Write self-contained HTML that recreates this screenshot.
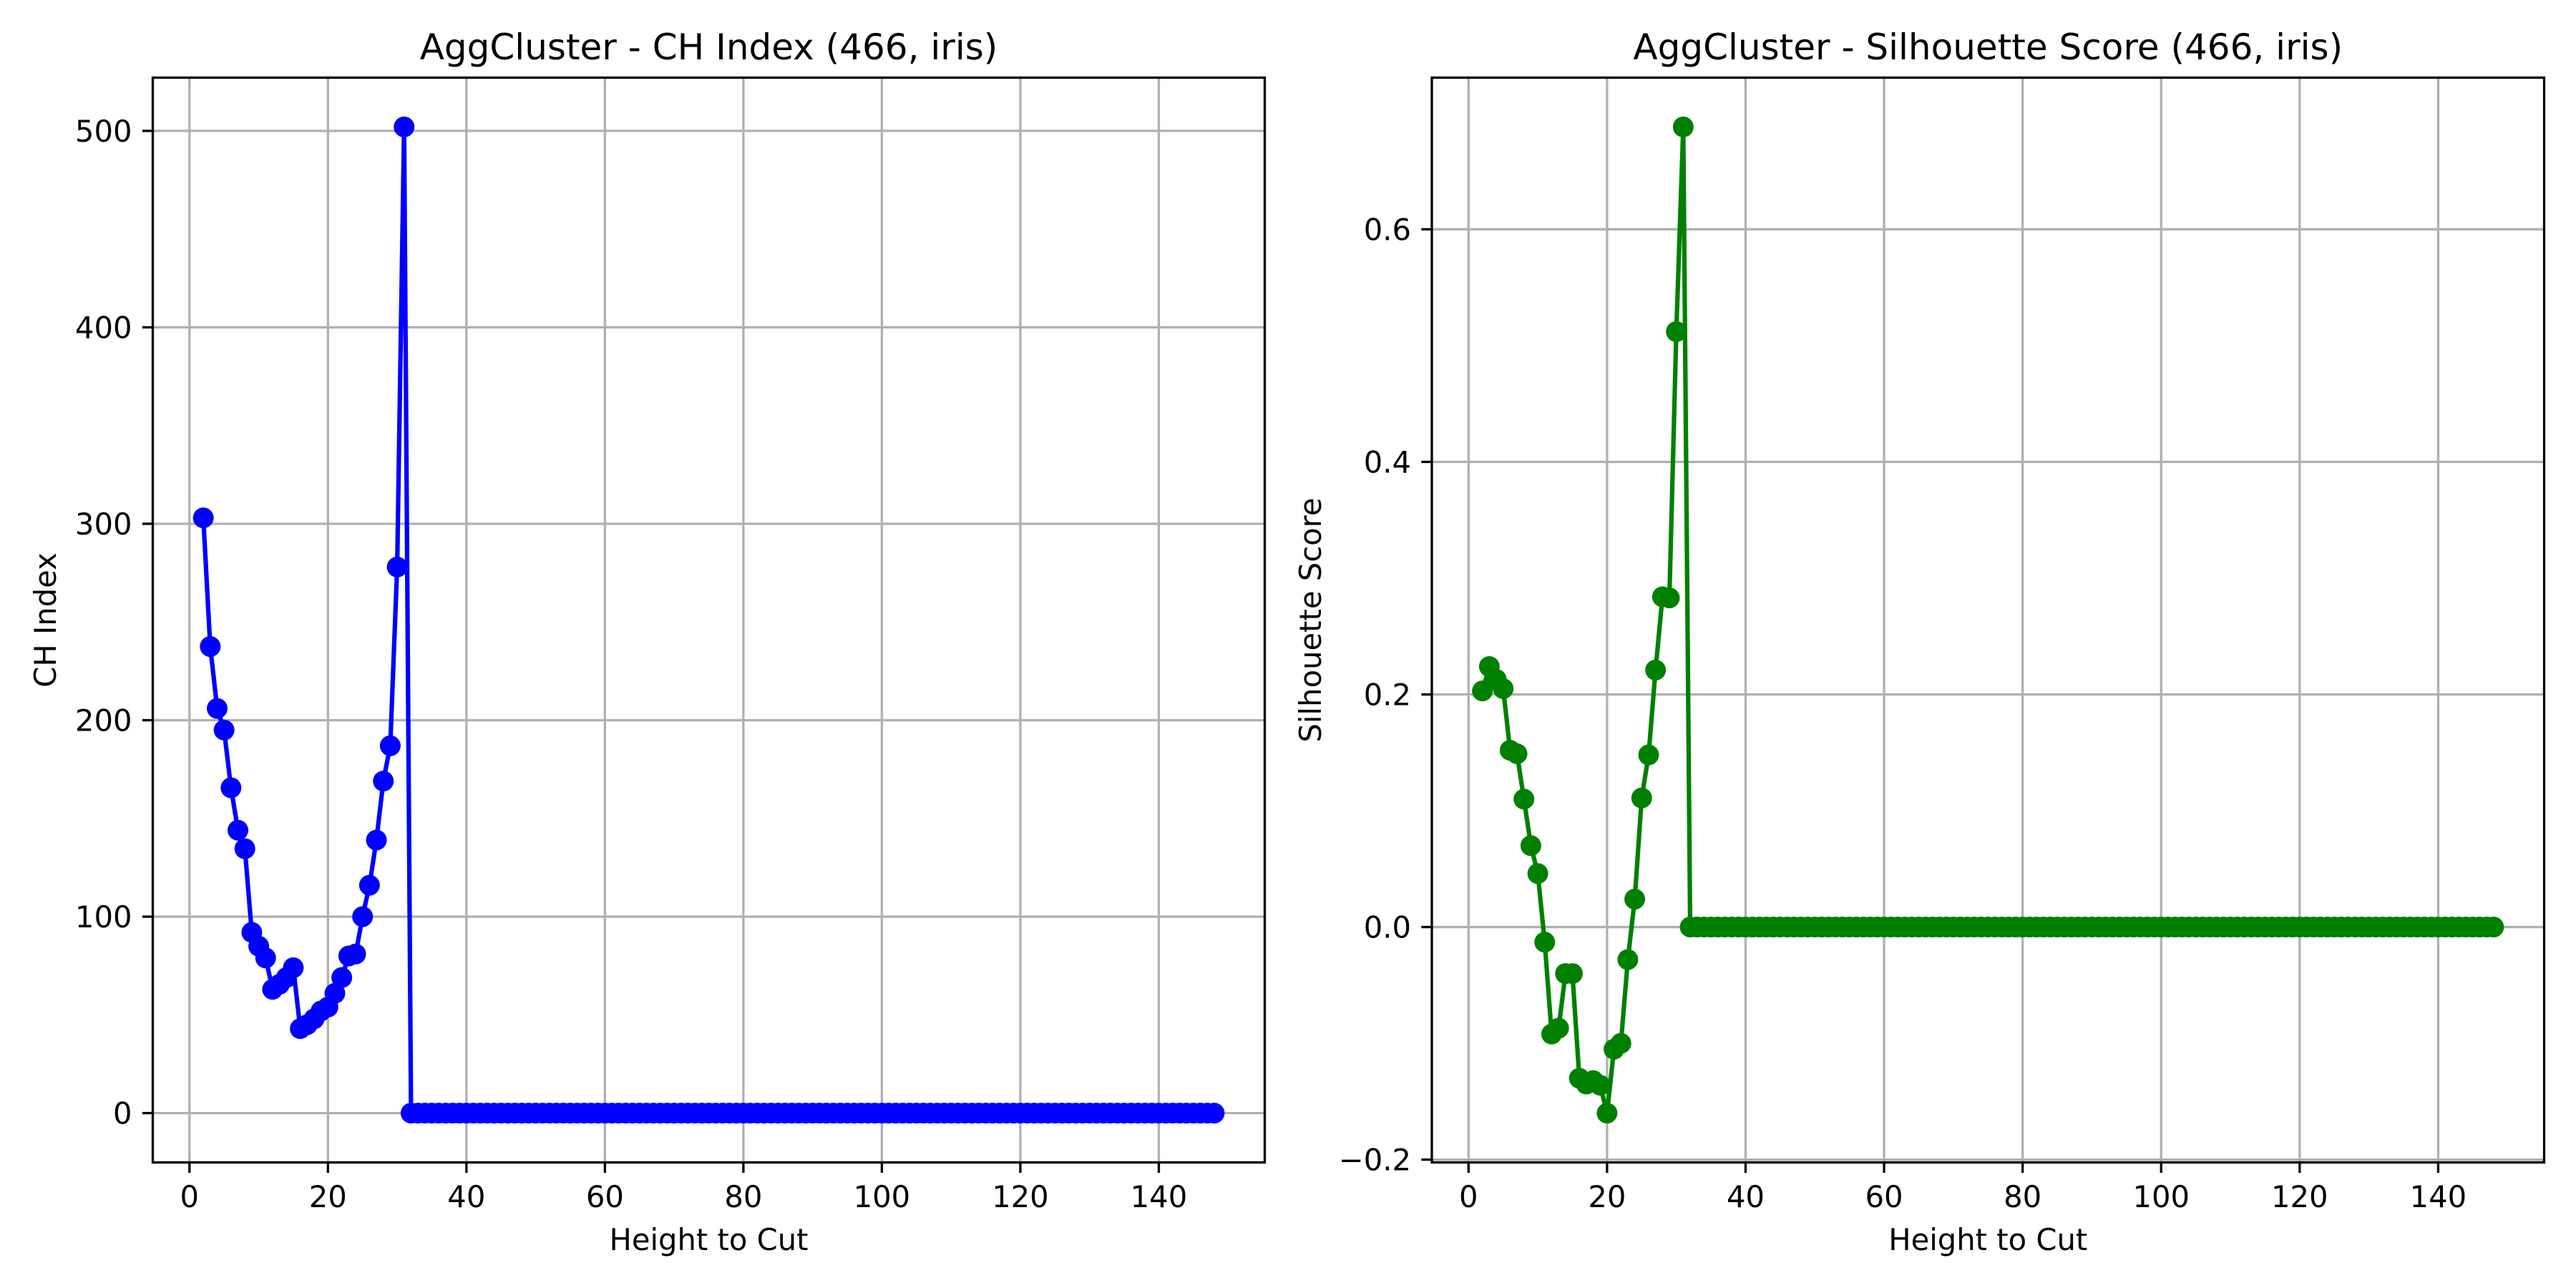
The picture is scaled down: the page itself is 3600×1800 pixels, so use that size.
<!DOCTYPE html>
<html><head><meta charset="utf-8">
<style>
html,body{margin:0;padding:0;background:#fff;}
svg{display:block;font-family:"DejaVu Sans","Liberation Sans",sans-serif;}
</style></head>
<body>
<svg id="fig" width="3600" height="1800" viewBox="0 0 3600 1800" xmlns="http://www.w3.org/2000/svg">
<rect width="3600" height="1800" fill="#fff"/>
</svg>
<script>
const heights = [];
for (let h = 2; h <= 148; h++) heights.push(h);
const chHead = [303,237.5,206,195,165.6,144,134.6,92,85,79,63,65.6,69,74,43,45,48,52,54,61,69,80,81,100,116,139,169,187,278,502];
const silHead = [0.203,0.224,0.213,0.205,0.152,0.149,0.11,0.07,0.046,-0.013,-0.092,-0.087,-0.04,-0.04,-0.13,-0.135,-0.132,-0.136,-0.16,-0.105,-0.1,-0.028,0.024,0.111,0.148,0.221,0.284,0.283,0.512,0.688];
const chValues = heights.map((h,i)=> i < chHead.length ? chHead[i] : 0);
const silValues = heights.map((h,i)=> i < silHead.length ? silHead[i] : 0);
const xTicks = [0,20,40,60,80,100,120,140];
const chTicks = [0,100,200,300,400,500];
const silTicks = [-0.2,0,0.2,0.4,0.6];
const silTickLabels = ["\u22120.2","0.0","0.2","0.4","0.6"];

const NS = "http://www.w3.org/2000/svg";
const svg = document.getElementById('fig');
function mk(tag, attrs, parent){
  const e = document.createElementNS(NS, tag);
  for (const k in attrs) e.setAttribute(k, attrs[k]);
  (parent||svg).appendChild(e);
  return e;
}
function panel(cfg){
  const g = mk('g', {});
  
  
  const {L,R,T,B} = cfg;
  const xs = heights, ys = cfg.values;
  const xmin = Math.min(...xs), xmax = Math.max(...xs);
  const xm = (xmax-xmin)*0.05;
  const x0 = xmin-xm, x1 = xmax+xm;
  const ymin = Math.min(...ys), ymax = Math.max(...ys);
  const ym = (ymax-ymin)*0.05;
  const y0 = ymin-ym, y1 = ymax+ym;
  const sx = v => L + (v-x0)/(x1-x0)*(R-L);
  const sy = v => B - (v-y0)/(y1-y0)*(B-T);
  cfg.xticks.forEach(t=>{
    const l = mk('line',{x1:sx(t),x2:sx(t),y1:T,y2:B,stroke:'#b0b0b0','stroke-width':3.3},g);
    
    
  });
  cfg.yticks.forEach(t=>{
    const l = mk('line',{x1:L,x2:R,y1:sy(t),y2:sy(t),stroke:'#b0b0b0','stroke-width':3.3},g);
    
    
  });
  const pts = xs.map((x,i)=>sx(x).toFixed(2)+','+sy(ys[i]).toFixed(2)).join(' ');
  const pl = mk('polyline',{points:pts,fill:'none',stroke:cfg.color,'stroke-width':6.25,'stroke-linejoin':'round'},g);
  
  
  xs.forEach((x,i)=>{
    const c = mk('circle',{cx:sx(x),cy:sy(ys[i]),r:14.5,fill:cfg.color},g);
    
    
  });
  const sp = mk('rect',{x:L,y:T,width:R-L,height:B-T,fill:'none',stroke:'#000','stroke-width':3.3},g);
  
  
  cfg.xticks.forEach(t=>{
    mk('line',{x1:sx(t),x2:sx(t),y1:B,y2:B+14.6,stroke:'#000','stroke-width':3.3},g);
    const tx = mk('text',{x:sx(t),y:1687,'font-size':41.7,'text-anchor':'middle',fill:'#000'},g);
    tx.textContent = String(t);
    
    
  });
  cfg.yticks.forEach((t,i)=>{
    mk('line',{x1:L-14.6,x2:L,y1:sy(t),y2:sy(t),stroke:'#000','stroke-width':3.3},g);
    const tx = mk('text',{x:L-29,y:sy(t)+15,'font-size':41.7,'text-anchor':'end',fill:'#000'},g);
    tx.textContent = cfg.ylabels[i];
    
    
  });
  const ti = mk('text',{x:(L+R)/2,y:83,'font-size':50,'text-anchor':'middle',fill:'#000'},g);
  ti.textContent = cfg.title;
  
  
  const xl = mk('text',{x:(L+R)/2,y:1747,'font-size':41.7,'text-anchor':'middle',fill:'#000'},g);
  xl.textContent = 'Height to Cut';
  
  
  const yc = (T+B)/2;
  const yl = mk('text',{x:cfg.ylabX,y:yc,'font-size':41.7,'text-anchor':'middle',fill:'#000',transform:`rotate(-90 ${cfg.ylabX} ${yc})`},g);
  yl.textContent = cfg.ylabel;
  
  
}
panel({name:'ch-index-panel',seriesName:'ch-index',L:213.5,R:1767.5,T:108.5,B:1624.5,values:chValues,color:'#0000ff',
  xticks:xTicks,yticks:chTicks,ylabels:chTicks.map(String),title:'AggCluster - CH Index (466, iris)',ylabel:'CH Index',ylabX:78});
panel({name:'silhouette-panel',seriesName:'silhouette',L:2001,R:3555.5,T:108.5,B:1624.5,values:silValues,color:'#008000',
  xticks:xTicks,yticks:silTicks,ylabels:silTickLabels,title:'AggCluster - Silhouette Score (466, iris)',ylabel:'Silhouette Score',ylabX:1846});
</script>
</body></html>
